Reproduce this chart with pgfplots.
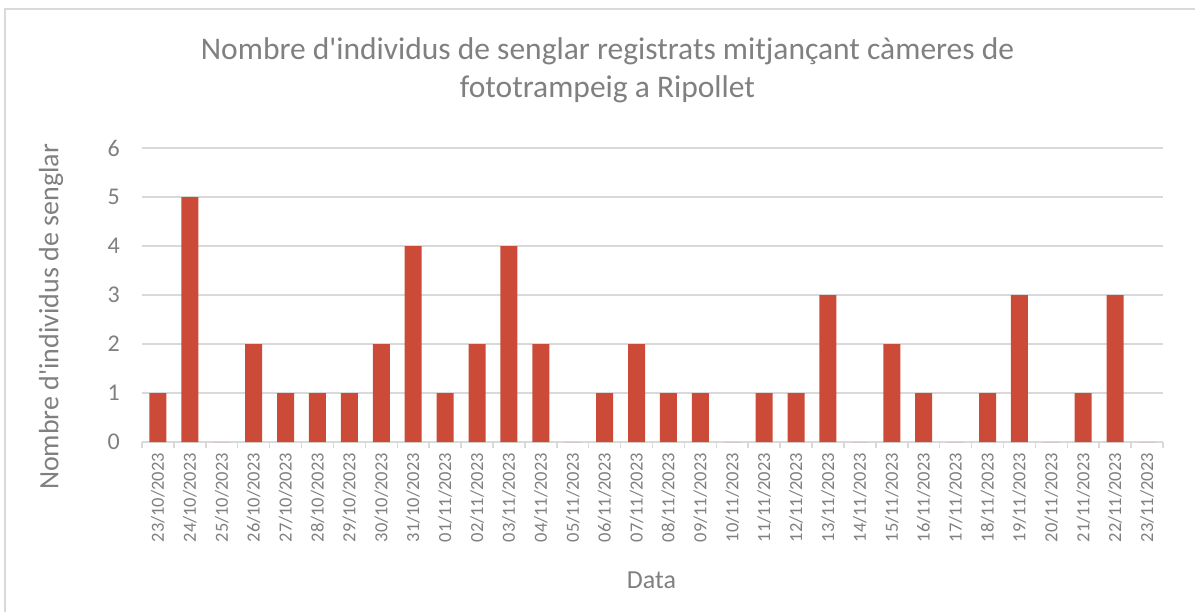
\documentclass[border=0pt]{standalone}
\usepackage{pgfplots}
\pgfplotsset{compat=1.18}
\usepackage{fontspec}
\setmainfont{Carlito}
\definecolor{barred}{RGB}{203,75,56}
\definecolor{gridgray}{RGB}{217,217,217}
\definecolor{txtgray}{RGB}{128,128,128}
\begin{document}
\begin{tikzpicture}[x=1pt,y=1pt]
\useasboundingbox (0,0) rectangle (1195,611);
\fill[white] (0,0) rectangle (1195,611);
\draw[gridgray, line width=1.5pt] (5,602) rectangle (1260,-60);
\begin{axis}[
  at={(142pt,169pt)}, anchor=south west,
  scale only axis, width=1021pt, height=294pt,
  xmin=-0.5, xmax=31.5, ymin=0, ymax=6,
  ytick={0,1,...,6},
  xtick={0,1,...,31},
  xticklabels={23/10/2023,24/10/2023,25/10/2023,26/10/2023,27/10/2023,28/10/2023,29/10/2023,30/10/2023,31/10/2023,01/11/2023,02/11/2023,03/11/2023,04/11/2023,05/11/2023,06/11/2023,07/11/2023,08/11/2023,09/11/2023,10/11/2023,11/11/2023,12/11/2023,13/11/2023,14/11/2023,15/11/2023,16/11/2023,17/11/2023,18/11/2023,19/11/2023,20/11/2023,21/11/2023,22/11/2023,23/11/2023},
  minor xtick={-0.5,0.5,...,31.5},
  major tick length=0pt,
  minor tick length=6pt,
  tick align=outside,
  axis x line*=bottom,
  axis y line*=left,
  x axis line style={-, draw=gridgray, line width=1.5pt},
  y axis line style={draw=none},
  minor tick style={draw=gridgray, line width=1.5pt},
  major tick style={draw=none},
  ymajorgrids,
  major grid style={draw=gridgray, line width=1.5pt},
  /pgf/number format/assume math mode=true,
  yticklabel style={font=\fontsize{24}{26}\selectfont, text=txtgray, anchor=east, inner sep=0pt, xshift=-22pt},
  xticklabel style={font=\fontsize{18.5}{20}\selectfont, text=txtgray, rotate=90, anchor=east, inner ysep=0pt, inner xsep=0pt, outer sep=0pt, xshift=-11pt},
]
\addplot[ybar, bar width=17pt, fill=barred, draw=none] coordinates {
(0,1) (1,5) (2,0) (3,2) (4,1) (5,1) (6,1) (7,2) (8,4) (9,1) (10,2) (11,4) (12,2) (13,0) (14,1) (15,2)
(16,1) (17,1) (18,0) (19,1) (20,1) (21,3) (22,0) (23,2) (24,1) (25,0) (26,1) (27,3) (28,0) (29,1) (30,3) (31,0)
};
\end{axis}
\node[font=\fontsize{31.5}{38}\selectfont, text=txtgray, align=center] at (607.5,541) {Nombre d\textquotesingle individus de senglar registrats mitjançant càmeres de\\fototrampeig a Ripollet};
\node[font=\fontsize{28}{30}\selectfont, text=txtgray, rotate=90] at (51,294) {Nombre d\textquotesingle individus de senglar};
\node[font=\fontsize{26}{30}\selectfont, text=txtgray] at (651.5,31) {Data};
\end{tikzpicture}
\end{document}
